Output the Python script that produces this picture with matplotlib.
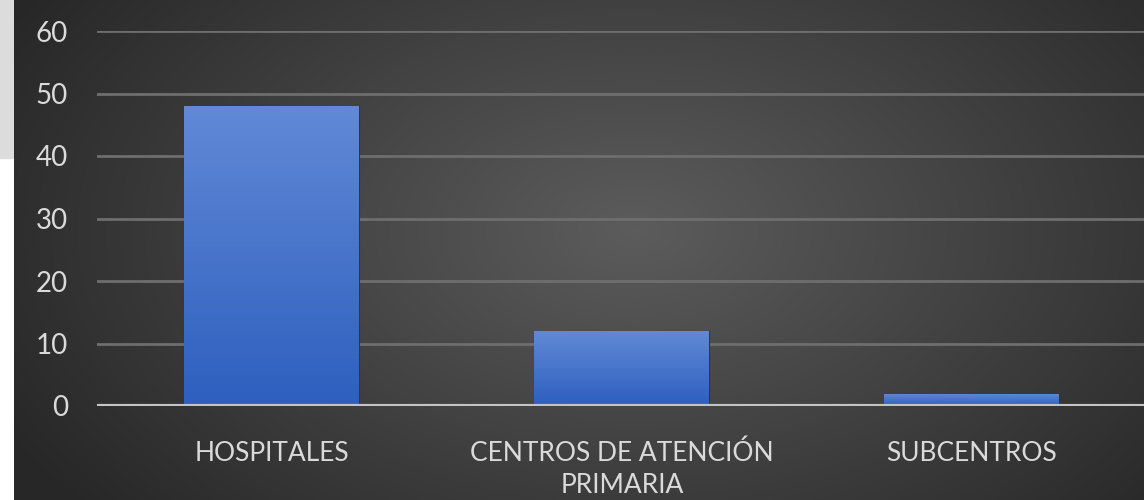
import numpy as np
import matplotlib
matplotlib.use("Agg")
import matplotlib.pyplot as plt
from matplotlib.colors import LinearSegmentedColormap

categories = ["HOSPITALES", "CENTROS DE ATENCIÓN\nPRIMARIA", "SUBCENTROS"]
values = [48, 12, 2]
yticks = [0, 10, 20, 30, 40, 50, 60]

plt.rcParams["font.family"] = ["Lato", "DejaVu Sans"]

fig = plt.figure(figsize=(11.44, 5.0), dpi=100)
fig.patch.set_facecolor("white")

# left strip: light marble-ish patch on top, white below
strip = fig.add_axes([0, 0, 14 / 1144, 1])
strip.set_axis_off()
strip.add_patch(plt.Rectangle((0, 1 - 158 / 500), 1, 158 / 500,
                              color="#dcdcdc", transform=strip.transAxes))

# dark radial gradient background
bg = fig.add_axes([14 / 1144, 0, 1 - 14 / 1144, 1])
bg.set_axis_off()
yy, xx = np.mgrid[0:500, 0:1130]
cx, cy = 620, 230
r = np.sqrt(((xx - cx) / 720.0) ** 2 + ((yy - cy) / 440.0) ** 2)
r = np.clip(r, 0, 1)
bg_cmap = LinearSegmentedColormap.from_list("bg", ["#5c5c5c", "#272727"])
bg.imshow(r, cmap=bg_cmap, aspect="auto", extent=[0, 1, 0, 1], vmin=0, vmax=1)
bg.set_xlim(0, 1)
bg.set_ylim(0, 1)

ax = fig.add_axes([97 / 1144, 1 - 406 / 500, 1050 / 1144, 375 / 500])
ax.patch.set_alpha(0)
x = np.arange(len(categories))
bars = ax.bar(x, values, width=0.5, color="#4472c4", edgecolor="#2a3550",
              linewidth=0.8, zorder=3)

# vertical gradient inside each bar
bar_cmap = LinearSegmentedColormap.from_list("bar", ["#2e5fbf", "#6189d6"])
grad = np.linspace(0, 1, 256).reshape(-1, 1)
for b in bars:
    x0, w, h = b.get_x(), b.get_width(), b.get_height()
    im = ax.imshow(grad, cmap=bar_cmap, aspect="auto", origin="lower",
                   extent=[x0, x0 + w, 0, h], zorder=3.5)
    im.set_clip_path(b)

ax.set_xlim(-0.5, 2.5)
ax.set_ylim(0, 60)
ax.set_yticks(yticks)
ax.set_xticks(x)
ax.set_xticklabels(categories, linespacing=1.35)
ax.yaxis.grid(True, color="#6e6e6e", linewidth=2.0, zorder=0)
ax.axhline(0, color="#c4c4c4", linewidth=3, zorder=4)
for s in ax.spines.values():
    s.set_visible(False)
ax.tick_params(axis="both", length=0, colors="#dadada", labelsize=19)
ax.tick_params(axis="y", pad=21, labelsize=20)
ax.tick_params(axis="x", pad=25)

fig.savefig("out.png", dpi=100)
